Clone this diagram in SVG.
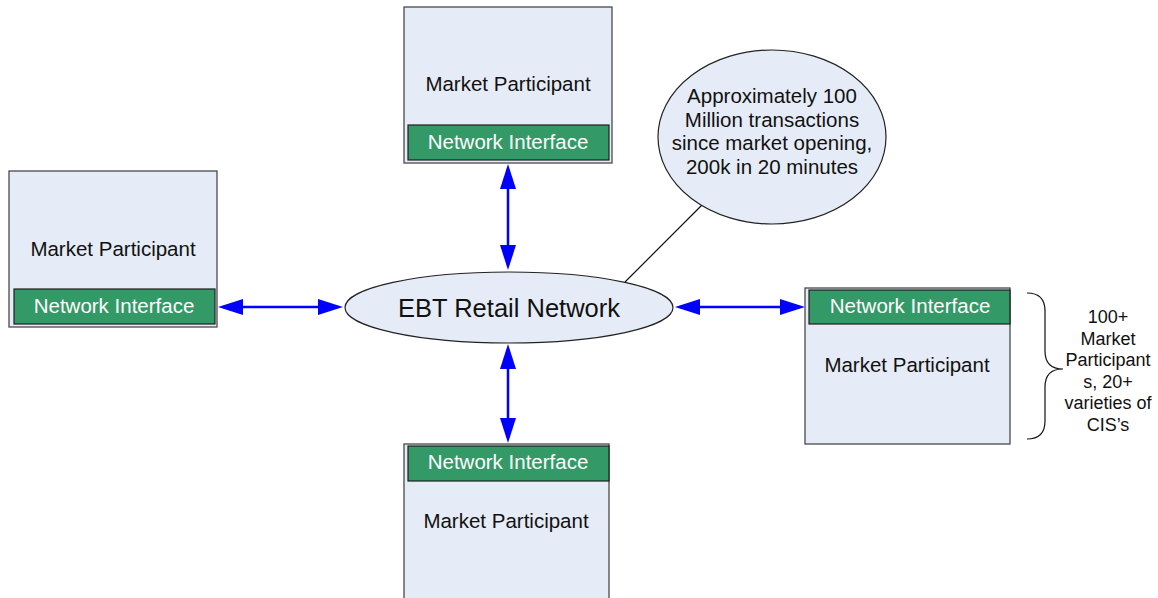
<svg xmlns="http://www.w3.org/2000/svg" width="1158" height="598" viewBox="0 0 1158 598">
<style>
.box{fill:#E6ECF7;stroke:#4a4a4a;stroke-width:1.3}
.ni{fill:#339966;stroke:#1e1e1e;stroke-width:1.2}
.t{font-family:"Liberation Sans",Arial,sans-serif;font-size:20.5px;fill:#111;text-anchor:middle}
.tw{font-family:"Liberation Sans",Arial,sans-serif;font-size:20.5px;fill:#fff;text-anchor:middle}
.ts{font-family:"Liberation Sans",Arial,sans-serif;font-size:18px;fill:#111;text-anchor:middle}
.ell{fill:#E6ECF7;stroke:#222;stroke-width:1.2}
.arr{stroke:#0000FF;stroke-width:2.5;fill:none;marker-start:url(#ah);marker-end:url(#ah)}
</style>
<defs>
<marker id="ah" markerUnits="userSpaceOnUse" markerWidth="25" markerHeight="16" viewBox="0 0 25 16" refX="20" refY="8" orient="auto-start-reverse">
<path d="M0,0 L25,8 L0,16 z" fill="#0000FF"/>
</marker>
</defs>
<rect width="1158" height="598" fill="#fff"/>
<g id="connectors">
<line class="arr" x1="508" y1="169" x2="508" y2="265"/>
<line class="arr" x1="223" y1="307" x2="338" y2="307"/>
<line class="arr" x1="680" y1="307" x2="800" y2="307"/>
<line class="arr" x1="508" y1="349" x2="508" y2="438"/>
<line x1="702" y1="205" x2="625" y2="282" stroke="#111" stroke-width="1.2"/>
</g>
<g id="mp-top">
<rect class="box" x="404" y="7" width="208" height="156"/>
<text class="t" x="508" y="91">Market Participant</text>
<rect class="ni" x="408" y="125" width="201" height="35"/>
<text class="tw" x="508" y="149">Network Interface</text>
</g>
<g id="mp-left">
<rect class="box" x="9" y="171" width="208" height="156"/>
<text class="t" x="113" y="256">Market Participant</text>
<rect class="ni" x="14" y="289" width="201" height="35"/>
<text class="tw" x="114" y="313">Network Interface</text>
</g>
<g id="mp-right">
<rect class="box" x="805" y="288" width="205" height="156"/>
<rect class="ni" x="809" y="290" width="201" height="34"/>
<text class="tw" x="910" y="313">Network Interface</text>
<text class="t" x="907" y="372">Market Participant</text>
</g>
<g id="mp-bottom">
<rect class="box" x="404" y="444" width="205" height="160"/>
<rect class="ni" x="408" y="446" width="201" height="35"/>
<text class="tw" x="508" y="469">Network Interface</text>
<text class="t" x="506" y="528">Market Participant</text>
</g>
<g id="ebt">
<ellipse class="ell" cx="509" cy="307.5" rx="164" ry="35.5"/>
<text class="t" x="509" y="316.5" style="font-size:25.5px">EBT Retail Network</text>
</g>
<g id="callout">
<ellipse class="ell" cx="772" cy="137" rx="114" ry="87"/>
<text class="t" x="772" y="103">Approximately 100</text>
<text class="t" x="772" y="126.5">Million transactions</text>
<text class="t" x="772" y="150">since market opening,</text>
<text class="t" x="772" y="174">200k in 20 minutes</text>
</g>
<g id="brace-note">
<path d="M1027,293 Q1045,293 1045,311 L1045,351 Q1045,369 1063,369 Q1045,369 1045,387 L1045,421 Q1045,439 1027,439" fill="none" stroke="#111" stroke-width="1.2"/>
<text class="ts" x="1108" y="323">100+</text>
<text class="ts" x="1108" y="344.5">Market</text>
<text class="ts" x="1108" y="366">Participant</text>
<text class="ts" x="1108" y="387.5">s, 20+</text>
<text class="ts" x="1108" y="409">varieties of</text>
<text class="ts" x="1108" y="430.5">CIS’s</text>
</g>
</svg>
